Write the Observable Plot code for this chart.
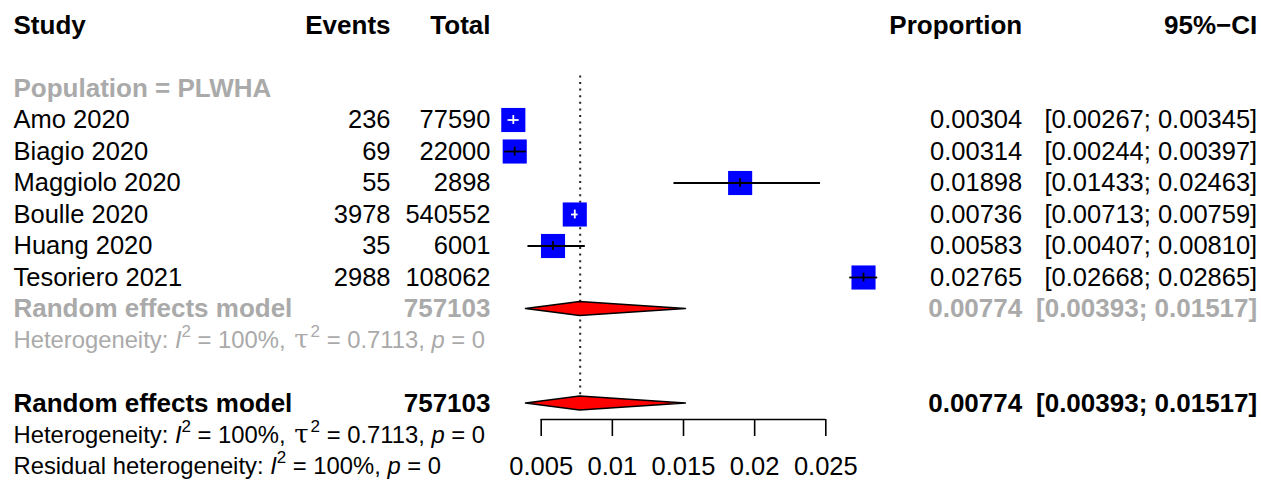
<!DOCTYPE html>
<html><head><meta charset="utf-8">
<script src="https://cdn.jsdelivr.net/npm/d3@7"></script>
<script src="https://cdn.jsdelivr.net/npm/@observablehq/plot@0.6"></script>
<style>body{margin:0;background:#fff;}</style>
</head><body><div id="chart"></div>
<script>
// ---- data ----
const studies = ["Amo 2020", "Biagio 2020", "Maggiolo 2020", "Boulle 2020", "Huang 2020", "Tesoriero 2021"];
const events = [236, 69, 55, 3978, 35, 2988];
const totals = [77590, 22000, 2898, 540552, 6001, 108062];
const proportions = [0.00304, 0.00314, 0.01898, 0.00736, 0.00583, 0.02765];
const ciLower = [0.00267, 0.00244, 0.01433, 0.00713, 0.00407, 0.02668];
const ciUpper = [0.00345, 0.00397, 0.02463, 0.00759, 0.00810, 0.02865];
const pooledEstimate = [0.00774];
const pooledLower = [0.00393];
const pooledUpper = [0.01517];
const headers = ["Study", "Events", "Total", "Proportion", "95%\u2212CI"];
const subgroupLabel = "Population = PLWHA";
const modelLabel = "Random effects model";
const heterogeneityText = "Heterogeneity: I\u00b2 = 100%, \u03c4\u00b2 = 0.7113, p = 0";
const residualText = "Residual heterogeneity: I\u00b2 = 100%, p = 0";
const tickValues = [0.005, 0.01, 0.015, 0.02, 0.025];
const tickLabels = ["0.005", "0.01", "0.015", "0.02", "0.025"];

// ---- layout / style ----
const GRAY = "#aaaaaa";
const FONT = '"Liberation Sans", Arial, Helvetica, sans-serif';
const FS = 25.5, FS_BOLD = 26, FS_HET = 23.8;
const W = 1261, H = 480;
const mLeft = 540.7, mRight = 435.7, mTop = 0, mBottom = 61;
const yRange = [25, 466], yDomain = [0, 14];
const pxPerUnit = (W - mLeft - mRight) / (tickValues[tickValues.length - 1] - tickValues[0]);
// row coordinate where the axis line sits (bottom of the frame)
const axisRow = yDomain[0] + (H - mBottom - yRange[0]) / (yRange[1] - yRange[0]) * (yDomain[1] - yDomain[0]);

const fmt = d3.format(".5f");
const ciText = (l, u) => `[${fmt(l)}; ${fmt(u)}]`;
const totalSum = d3.sum(totals);

const studyRows = studies.map((s, i) => ({
  row: 3 + i, study: s, events: String(events[i]), total: String(totals[i]),
  prop: fmt(proportions[i]), ci: ciText(ciLower[i], ciUpper[i]),
  est: proportions[i], lo: ciLower[i], hi: ciUpper[i], kind: "normal", color: "black"
}));

const lines = [
  {row: 0, study: headers[0], events: headers[1], total: headers[2], prop: headers[3], ci: headers[4], kind: "bold", color: "black"},
  {row: 2, study: subgroupLabel, kind: "bold", color: GRAY},
  ...studyRows,
  {row: 9, study: modelLabel, total: String(totalSum), prop: fmt(pooledEstimate[0]), ci: ciText(pooledLower[0], pooledUpper[0]), kind: "bold", color: GRAY},
  {row: 10, study: heterogeneityText, kind: "het", color: GRAY},
  {row: 12, study: modelLabel, total: String(totalSum), prop: fmt(pooledEstimate[0]), ci: ciText(pooledLower[0], pooledUpper[0]), kind: "bold", color: "black"},
  {row: 13, study: heterogeneityText, kind: "het", color: "black"},
  {row: 14, study: residualText, kind: "het", color: "black"}
];

const diamondRows = [9, 12];
const dh = 0.222;
const diamonds = diamondRows.flatMap(r => [
  {g: r, y: r - dh, x1: pooledEstimate[0], x2: pooledEstimate[0]},
  {g: r, y: r, x1: pooledLower[0], x2: pooledUpper[0]},
  {g: r, y: r + dh, x1: pooledEstimate[0], x2: pooledEstimate[0]}
]);

const ciColor = d => (d.hi - d.lo) * pxPerUnit < 20 ? "white" : "black";

const columns = [
  {key: "study", anchor: "left", dx: 13 - mLeft, textAnchor: "start"},
  {key: "events", anchor: "left", dx: 390 - mLeft, textAnchor: "end"},
  {key: "total", anchor: "left", dx: 490 - mLeft, textAnchor: "end"},
  {key: "prop", anchor: "right", dx: 1021.7 - (W - mRight), textAnchor: "end"},
  {key: "ci", anchor: "right", dx: 1256.7 - (W - mRight), textAnchor: "end"}
];
const kinds = {normal: {size: FS, weight: "normal"}, bold: {size: FS_BOLD, weight: "bold"}, het: {size: FS_HET, weight: "normal"}};

const textMarks = columns.flatMap(c => Object.keys(kinds).map(k =>
  Plot.text(lines.filter(d => d.kind === k && d[c.key] != null), {
    y: "row", text: c.key, fill: "color", frameAnchor: c.anchor, dx: c.dx,
    textAnchor: c.textAnchor, fontSize: kinds[k].size, fontWeight: kinds[k].weight
  })
));

const plot = Plot.plot({
  width: W, height: H,
  marginLeft: mLeft, marginRight: mRight, marginTop: mTop, marginBottom: mBottom,
  style: {fontFamily: FONT, fontSize: FS + "px", background: "white", color: "black"},
  x: {domain: [tickValues[0], tickValues[tickValues.length - 1]], label: null},
  y: {domain: yDomain, range: yRange, axis: null},
  color: {type: "identity"},
  marks: [
    Plot.ruleX(pooledEstimate, {x: d => d, y1: () => 1.6, y2: () => 12, stroke: "#222", strokeWidth: 2, strokeDasharray: "2,4.6"}),
    Plot.dot(studyRows, {x: "est", y: "row", symbol: "square", r: 13.6, fill: "blue", stroke: "none"}),
    Plot.ruleY(studyRows, {y: "row", x1: "lo", x2: "hi", stroke: ciColor, strokeWidth: 1.8}),
    Plot.ruleX(studyRows, {x: "est", y1: d => d.row - 0.14, y2: d => d.row + 0.14, stroke: ciColor, strokeWidth: 1.8}),
    Plot.areaX(diamonds, {y: "y", x1: "x1", x2: "x2", z: "g", fill: "red", stroke: "black", strokeWidth: 1.5}),
    Plot.ruleY([axisRow], {y: d => d, x1: () => tickValues[0], x2: () => tickValues[tickValues.length - 1], stroke: "black", strokeWidth: 1.6}),
    Plot.axisX({anchor: "bottom", ticks: tickValues, tickFormat: d => tickLabels[tickValues.indexOf(d)],
      tickSize: 17, tickPadding: 20, label: null, strokeWidth: 1.6, fontSize: FS}),
    ...textMarks
  ]
});

document.getElementById("chart").appendChild(plot);

// rich text for the heterogeneity lines (italic I and p, superscript 2, Greek tau)
const NS = "http://www.w3.org/2000/svg";
plot.querySelectorAll("text").forEach(el => {
  const t = el.textContent;
  if (!/I\u00b2/.test(t)) return;
  const parts = t.split(/(I\u00b2|\u03c4\u00b2|p(?= = ))/);
  while (el.firstChild) el.removeChild(el.firstChild);
  let pendingDy = 0;
  const add = (txt, attrs = {}) => {
    if (!txt) return;
    const ts = document.createElementNS(NS, "tspan");
    for (const k in attrs) ts.setAttribute(k, attrs[k]);
    if (pendingDy && !attrs.dy) { ts.setAttribute("dy", pendingDy); pendingDy = 0; }
    ts.textContent = txt;
    el.appendChild(ts);
  };
  for (const p of parts) {
    if (p === "I\u00b2") {
      add("I", {"font-style": "italic"});
      add("2", {"font-size": 17, dy: -11});
      pendingDy = 11;
    } else if (p === "\u03c4\u00b2") {
      add("\u03c4", {"font-family": '"DejaVu Serif", "Liberation Serif", serif', "font-size": 26, dx: 2});
      add("2", {"font-size": 17, dy: -11, dx: 2});
      pendingDy = 11;
    } else if (p === "p") {
      add("p", {"font-style": "italic"});
    } else {
      add(p);
    }
  }
});
</script>
</body></html>
